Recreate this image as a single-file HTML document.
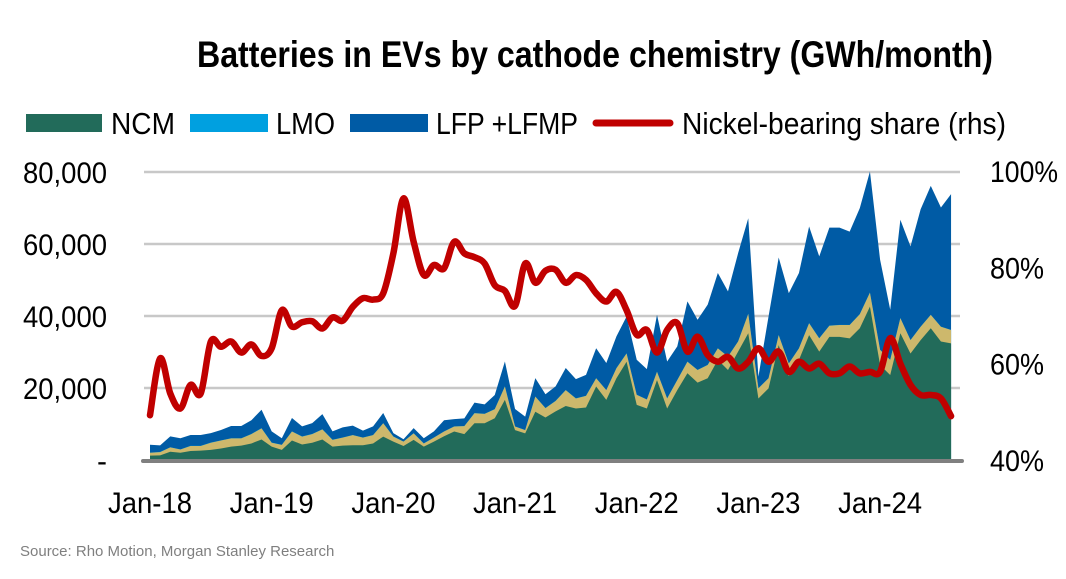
<!DOCTYPE html>
<html><head><meta charset="utf-8"><style>
body{margin:0;background:#fff;}
svg{display:block;font-family:"Liberation Sans Narrow","Liberation Sans",sans-serif;}
</style></head><body>
<svg id="chart" width="1066" height="579" viewBox="0 0 1066 579">
<text x="197" y="67" textLength="796" lengthAdjust="spacingAndGlyphs" font-size="37" font-weight="bold" fill="#000">Batteries in EVs by cathode chemistry (GWh/month)</text>
<g>
<g><rect x="26" y="114" width="76" height="18" fill="#226b5a"/><text x="111" y="134" font-size="31" textLength="64" lengthAdjust="spacingAndGlyphs">NCM</text></g>
<g><rect x="190" y="114" width="78" height="18" fill="#00a0e0"/><text x="276" y="134" font-size="31" textLength="59" lengthAdjust="spacingAndGlyphs">LMO</text></g>
<g><rect x="350" y="114" width="78" height="18" fill="#005ba5"/><text x="436" y="134" font-size="31" textLength="142" lengthAdjust="spacingAndGlyphs">LFP +LFMP</text></g>
<g><line x1="596" y1="123" x2="670" y2="123" stroke="#c00000" stroke-width="7" stroke-linecap="round"/><text x="682" y="134" font-size="31" textLength="324" lengthAdjust="spacingAndGlyphs">Nickel-bearing share (rhs)</text></g>
</g>
<g id="grid"></g>
<g id="areas"></g>
<g id="axes"></g>
<path id="redline" fill="none" stroke="#c00000" stroke-width="6.5" stroke-linejoin="round" stroke-linecap="round"/>
<text x="20" y="556" font-size="15" fill="#7f7f7f" font-family="Liberation Sans, sans-serif">Source: Rho Motion, Morgan Stanley Research</text>
</svg>
<script>
const xLabels=["Jan-18","Jan-19","Jan-20","Jan-21","Jan-22","Jan-23","Jan-24"];
const leftTicks=[0,20000,40000,60000,80000];
const leftTickLabels=["-","20,000","40,000","60,000","80,000"];
const rightTicks=[40,60,80,100];
const rightTickLabels=["40%","60%","80%","100%"];
// thousand GWh-equivalent units (x1000)
const ncm=[1.2,1.3,2.3,2.0,2.5,2.6,2.8,3.2,3.7,4.0,4.6,5.7,3.7,2.8,5.4,4.3,4.8,5.7,3.7,4.0,4.1,4.1,4.6,6.5,5.1,3.9,5.6,3.7,5.1,6.6,7.9,7.2,10.2,10.2,11.6,16.7,8.3,7.4,13.4,11.8,13.5,
15.0,14.3,14.6,20.4,16.7,22.7,27.3,15.3,14.3,22.2,14.3,19.4,24.1,21.5,22.7,27.8,25.0,30.1,35.2,17.1,19.9,31.9,23.3,27.8,34.7,30.1,34.2,34.2,33.8,36.6,42.6,26.4,23.6,35.2,29.6,33.3,36.6,32.9,32.4];
const other=[0.8,0.9,1.2,0.9,1.4,1.3,2.0,2.2,2.3,2.0,2.6,3.1,1.1,1.4,2.5,2.2,2.4,2.8,1.9,2.2,2.8,2.1,2.3,3.7,1.4,1.2,1.8,0.9,1.1,1.3,1.4,2.2,2.8,2.6,2.5,3.7,1.0,0.9,4.2,2.6,2.9,
4.4,2.8,3.2,2.3,2.7,2.8,2.3,2.8,2.5,2.3,2.8,2.8,3.2,3.5,3.7,3.2,3.7,2.8,5.4,2.8,2.8,2.8,3.5,3.2,3.3,3.7,3.1,3.3,3.7,3.9,3.9,4.2,4.2,4.2,3.7,3.7,3.7,4.1,3.7];
const lmo=new Array(80).fill(0.05);
const lfp=[2.2,1.8,3.0,3.1,3.0,3.0,2.6,2.9,3.4,3.4,3.8,5.1,3.1,1.8,3.7,2.8,3.0,4.2,2.3,2.8,2.6,1.9,2.4,2.8,0.9,0.6,1.4,1.4,1.7,3.1,2.0,2.1,2.9,2.6,3.9,6.9,4.8,3.7,5.1,3.8,4.0,
6.1,5.3,5.8,8.3,7.5,8.8,10.2,9.7,8.4,15.8,10.2,9.3,16.7,13.9,16.7,20.9,18.1,24.5,26.5,3.2,17.1,21.5,19.5,20.9,26.8,22.7,27.2,27.0,25.9,29.4,33.6,25.0,13.9,27.3,26.0,32.6,35.8,33.1,37.7];
const nickelShare=[49.3,61.1,53.8,50.7,55.6,53.8,64.6,63.5,64.6,62.3,64.0,61.6,63.2,71.1,67.7,68.6,68.8,67.3,69.6,68.9,71.8,73.6,73.3,74.6,82.9,94.3,85.3,78.4,80.5,79.8,85.3,82.9,82.1,80.8,76.3,75.1,72.0,80.8,76.8,79.3,79.5,
76.8,78.4,77.4,74.6,72.9,74.9,71.1,66.0,67.0,62.3,67.0,68.4,62.5,65.6,61.8,60.4,61.4,59.0,60.4,63.2,60.4,62.5,58.3,60.4,59.0,60.0,58.0,58.0,59.4,58.0,58.3,58.3,65.3,60.0,55.6,53.5,53.5,52.8,49.1];

const NS="http://www.w3.org/2000/svg";
const X0=150,DX=10.14;
const x=i=>X0+DX*i;
const yL=v=>460-v*(288/80000);
const yR=p=>460-(p-40)*(289/60);
function mk(tag,attrs,parent){const e=document.createElementNS(NS,tag);for(const k in attrs)e.setAttribute(k,attrs[k]);parent.appendChild(e);return e;}
const grid=document.getElementById('grid'),areas=document.getElementById('areas'),axes=document.getElementById('axes');
leftTicks.forEach((t,i)=>{
  if(t>0){const g=mk('line',{x1:144,x2:960,y1:yL(t),y2:yL(t),stroke:'#c8c8c8','stroke-width':2.5},grid);
  
  }
  const tx=mk('text',{x:107,y:yL(t)+11,'text-anchor':'end','font-size':30},axes);tx.textContent=leftTickLabels[i];
  if(t>0){tx.setAttribute('textLength',84);tx.setAttribute('lengthAdjust','spacingAndGlyphs');}
  
  
});
rightTicks.forEach((t,i)=>{
  const tx=mk('text',{x:990,y:yR(t)+11,'font-size':30,textLength:(t===100?68:54),lengthAdjust:'spacingAndGlyphs'},axes);tx.textContent=rightTickLabels[i];
  
  
});
xLabels.forEach((l,i)=>{
  const tx=mk('text',{x:x(i*12)-42,y:513,'font-size':30,textLength:84,lengthAdjust:'spacingAndGlyphs'},axes);tx.textContent=l;
  
  
});
const n=ncm.length;
const series=[[ncm,'#226b5a','area-ncm'],[other,'#cdb86c','area-other'],[lmo,'#00a0e0','area-lmo'],[lfp,'#005ba5','area-lfp']];
let base=new Array(n).fill(0);
const layers=[];
series.forEach(([arr,col,name])=>{
  const top=base.map((b,i)=>b+arr[i]);
  layers.push([base,top,col,name]);
  base=top;
});
layers.reverse().forEach(([b,t,col,name])=>{
  let d='M'+x(0)+','+yL(0);
  for(let i=0;i<n;i++)d+=' L'+x(i)+','+yL(t[i]*1000);
  d+=' L'+x(n-1)+','+yL(0)+' Z';
  const p=mk('path',{d:d,fill:col},areas);
  
  
});
const ax=mk('line',{x1:143,x2:962,y1:461,y2:461,stroke:'#808080','stroke-width':4,'stroke-linecap':'round'},axes);


const pts=nickelShare.map((p,i)=>[x(i),yR(p)]);
let d='M'+pts[0][0]+','+pts[0][1];
for(let i=0;i<pts.length-1;i++){
  const p0=pts[Math.max(0,i-1)],p1=pts[i],p2=pts[i+1],p3=pts[Math.min(pts.length-1,i+2)];
  const c1=[p1[0]+(p2[0]-p0[0])/6,p1[1]+(p2[1]-p0[1])/6];
  const c2=[p2[0]-(p3[0]-p1[0])/6,p2[1]-(p3[1]-p1[1])/6];
  d+=' C'+c1[0]+','+c1[1]+' '+c2[0]+','+c2[1]+' '+p2[0]+','+p2[1];
}
document.getElementById('redline').setAttribute('d',d);
</script>
</body></html>
